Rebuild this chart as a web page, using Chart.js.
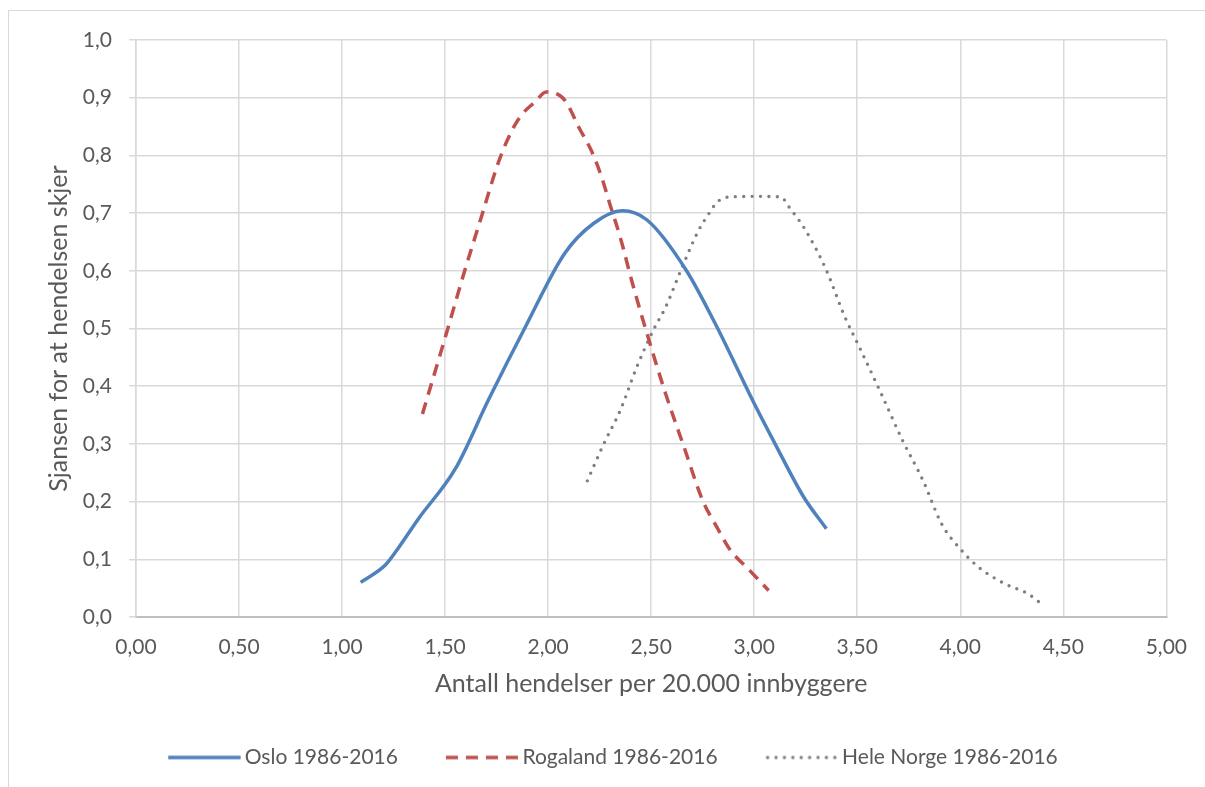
<!DOCTYPE html>
<html>
<head>
<meta charset="utf-8">
<script src="https://cdn.jsdelivr.net/npm/chart.js@4.4.1/dist/chart.umd.min.js"></script>
<style>
  html, body { margin: 0; padding: 0; background: #fff; }
  #frame { position: absolute; left: 8px; top: 10px; right: 0; bottom: 0; border-left: 1px solid #d9d9d9; border-top: 1px solid #d9d9d9; }
  #chart { position: absolute; left: 0; top: 0; }
</style>
</head>
<body>
<div id="frame"></div>
<canvas id="chart" width="1205" height="787"></canvas>
<script>
// x = antall hendelser per 20 000 innbyggere, y = sjanse
const osloX = [1.09, 1.21, 1.27, 1.37, 1.55, 1.71, 1.89, 2.08, 2.22, 2.36, 2.48, 2.67, 2.81, 3.00, 3.10, 3.24, 3.35];
const osloY = [0.060, 0.090, 0.118, 0.170, 0.257, 0.376, 0.503, 0.630, 0.682, 0.704, 0.688, 0.601, 0.509, 0.370, 0.301, 0.208, 0.153];

const rogalandX = [1.39, 1.51, 1.59, 1.68, 1.75, 1.80, 1.86, 1.94, 1.99, 2.06, 2.09, 2.15, 2.21, 2.26, 2.30, 2.35, 2.41, 2.49, 2.57, 2.66, 2.75, 2.82, 2.88, 2.98, 3.07];
const rogalandY = [0.352, 0.496, 0.594, 0.698, 0.779, 0.825, 0.865, 0.894, 0.910, 0.903, 0.891, 0.848, 0.808, 0.762, 0.715, 0.658, 0.577, 0.479, 0.387, 0.294, 0.202, 0.155, 0.118, 0.080, 0.046];

const norgeX = [2.19, 2.27, 2.35, 2.43, 2.51, 2.57, 2.65, 2.73, 2.78, 2.82, 2.88, 3.01, 3.13, 3.17, 3.25, 3.35, 3.44, 3.51, 3.61, 3.72, 3.82, 3.91, 4.00, 4.09, 4.22, 4.33, 4.40];
const norgeY = [0.236, 0.300, 0.358, 0.433, 0.497, 0.537, 0.606, 0.670, 0.699, 0.719, 0.728, 0.729, 0.728, 0.710, 0.670, 0.601, 0.520, 0.468, 0.392, 0.306, 0.236, 0.161, 0.118, 0.086, 0.057, 0.040, 0.021];

const seriesNames = ['Oslo 1986-2016', 'Rogaland 1986-2016', 'Hele Norge 1986-2016'];
const xTitle = 'Antall hendelser per 20.000 innbyggere';
const yTitle = 'Sjansen for at hendelsen skjer';

const textColor = '#595959';
const gridColor = '#d9d9d9';
const fontFamily = 'Lato, "Open Sans", sans-serif';

const styles = [
  { color: '#4f81bd', width: 3.5, dash: [], cap: 'butt' },
  { color: '#c0504d', width: 3.5, dash: [12, 8], cap: 'butt' },
  { color: '#7f7f7f', width: 3.4, dash: [0, 8.4], cap: 'round' }
];

function toPoints(xs, ys) {
  return xs.map((x, i) => ({ x: x, y: ys[i] }));
}

// Norwegian decimal comma
function fmt(v, d) {
  return Number(v).toFixed(d).replace('.', ',');
}

// small canvas with a line sample, used as legend symbol (keeps the dash pattern)
function legendSymbol(st) {
  const c = document.createElement('canvas');
  c.width = 80;
  c.height = 8;
  const g = c.getContext('2d');
  g.strokeStyle = st.color;
  g.lineWidth = st.width;
  g.lineCap = st.cap;
  g.setLineDash(st.dash);
  g.beginPath();
  g.moveTo(st.cap === 'round' ? 9 : 7, 4);
  g.lineTo(79.5, 4);
  g.stroke();
  return c;
}

function makeDataset(i, xs, ys) {
  const st = styles[i];
  return {
    label: seriesNames[i],
    data: toPoints(xs, ys),
    showLine: true,
    borderColor: st.color,
    backgroundColor: st.color,
    borderWidth: st.width,
    borderDash: st.dash,
    borderCapStyle: st.cap,
    pointRadius: 0,
    pointStyle: legendSymbol(st),
    cubicInterpolationMode: 'monotone'
  };
}

// move the legend row sideways
const legendShift = {
  id: 'legendShift',
  afterLayout(chart) {
    chart.legend.left += 25;
    chart.legend.right += 25;
  }
};

const ctx = document.getElementById('chart').getContext('2d');
const chart = new Chart(ctx, {
  type: 'scatter',
  data: {
    datasets: [
      makeDataset(0, osloX, osloY),
      makeDataset(1, rogalandX, rogalandY),
      makeDataset(2, norgeX, norgeY)
    ]
  },
  options: {
    responsive: false,
    animation: false,
    layout: { padding: { left: 8, right: 37, top: 40, bottom: 9 } },
    scales: {
      x: {
        type: 'linear',
        min: 0,
        max: 5,
        afterFit: (s) => { s.height = 82; },
        ticks: {
          stepSize: 0.5,
          padding: 18,
          color: textColor,
          font: { family: fontFamily, size: 21 },
          callback: (v) => fmt(v, 2)
        },
        grid: { color: gridColor, lineWidth: 1.5, drawTicks: false },
        border: { color: '#bfbfbf', width: 2 },
        title: {
          display: true,
          text: xTitle,
          color: textColor,
          font: { family: fontFamily, size: 25 },
          padding: { top: 0, bottom: 0 }
        }
      },
      y: {
        min: 0,
        max: 1,
        afterFit: (s) => { s.width = 128; },
        ticks: {
          stepSize: 0.1,
          padding: 17,
          color: textColor,
          font: { family: fontFamily, size: 21 },
          callback: (v) => fmt(v, 1)
        },
        grid: { color: gridColor, lineWidth: 1.5, tickLength: 7 },
        border: { color: gridColor, width: 1.5 },
        title: {
          display: true,
          text: yTitle,
          color: textColor,
          font: { family: fontFamily, size: 25 },
          padding: { top: 36, bottom: 0 }
        }
      }
    },
    plugins: {
      tooltip: { enabled: false },
      legend: {
        position: 'bottom',
        labels: {
          usePointStyle: true,
          pointStyleWidth: 66,
          padding: 48,
          color: textColor,
          font: { family: fontFamily, size: 21 }
        }
      }
    }
  },
  plugins: [legendShift]
});
</script>
</body>
</html>
